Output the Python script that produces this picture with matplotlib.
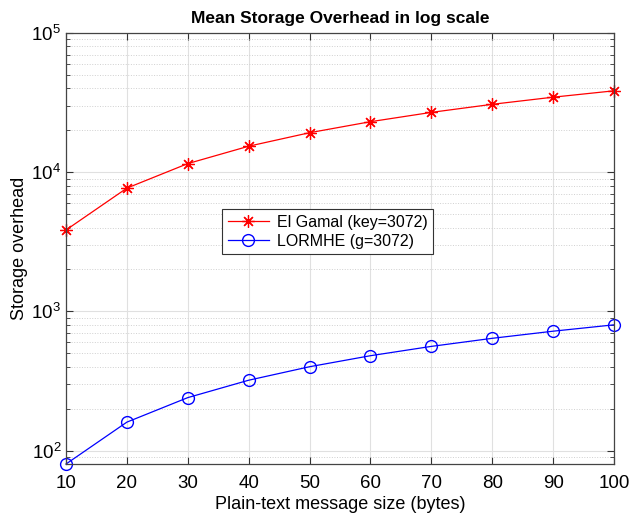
import numpy as np
import matplotlib.pyplot as plt
from matplotlib.ticker import LogLocator, NullFormatter

# Data
msg_size = [10, 20, 30, 40, 50, 60, 70, 80, 90, 100]
elgamal = [3840, 7680, 11520, 15360, 19200, 23040, 26880, 30720, 34560, 38400]
lormhe = [80, 160, 240, 320, 400, 480, 560, 640, 720, 800]

plt.rcParams["font.family"] = ["Liberation Sans", "DejaVu Sans"]

fig = plt.figure(figsize=(6.3, 5.15), dpi=100)
ax = fig.add_axes([0.1048, 0.099, 0.8698, 0.837])

# MATLAB-like asterisk marker (8 spokes)
ax.plot(msg_size, elgamal, color="red", marker=(8, 2, 0), markersize=9, lw=0.9,
        markeredgewidth=0.9, clip_on=False, label="El Gamal (key=3072)")
ax.plot(msg_size, lormhe, color="blue", marker="o", markersize=8.5, lw=0.9,
        markerfacecolor="none", clip_on=False, label="LORMHE (g=3072)")

ax.set_yscale("log")
ax.set_xlim(10, 100)
ax.set_ylim(80, 1e5)
ax.set_xticks(msg_size)
ax.yaxis.set_major_locator(LogLocator(base=10, numticks=10))
ax.yaxis.set_minor_locator(LogLocator(base=10, subs=np.arange(2, 10), numticks=20))
ax.yaxis.set_minor_formatter(NullFormatter())

ax.grid(True, which="major", color="#e0e0e0", lw=0.8, ls="-")
ax.grid(True, which="minor", axis="y", color="#d0d0d0", lw=0.7, ls=":")
ax.set_axisbelow(True)

ax.tick_params(which="both", direction="in", top=True, right=True, labelsize=13.5,
               color="#333333")
ax.tick_params(which="major", length=5)
ax.tick_params(which="minor", length=3)
ax.tick_params(axis="x", pad=8)
for s in ax.spines.values():
    s.set_color("#444444")
    s.set_linewidth(0.9)

ax.set_title("Mean Storage Overhead in log scale", fontsize=12.5, fontweight="bold", pad=7)
ax.set_xlabel("Plain-text message size (bytes)", fontsize=13, labelpad=3)
ax.set_ylabel("Storage overhead", fontsize=13, labelpad=2)

leg = ax.legend(loc="upper left", bbox_to_anchor=(0.27, 0.61), fontsize=11.5,
                fancybox=False, edgecolor="#333333", framealpha=1,
                handlelength=2.6, handletextpad=0.5, borderpad=0.35,
                labelspacing=0.25)
leg.get_frame().set_linewidth(0.8)

fig.savefig("out.png", dpi=100)
